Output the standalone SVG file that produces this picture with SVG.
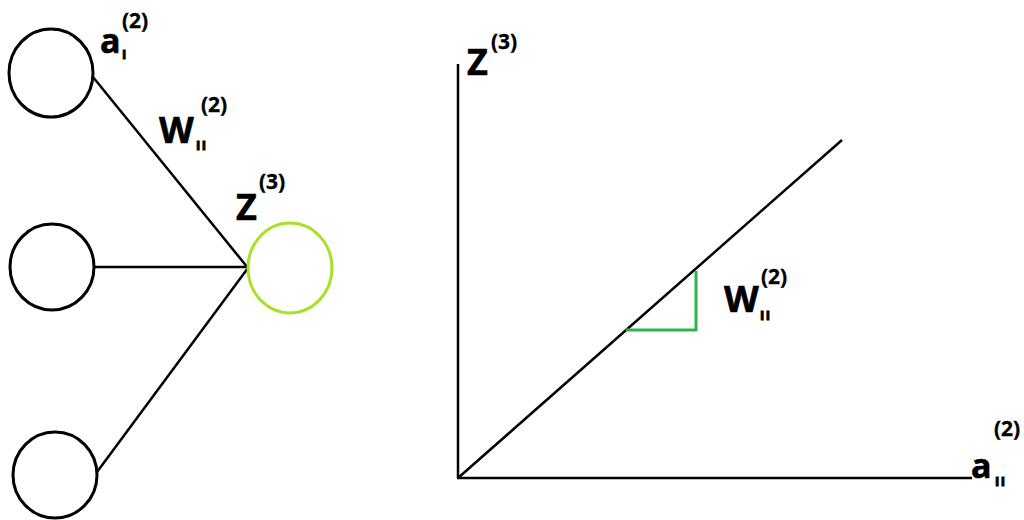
<svg xmlns="http://www.w3.org/2000/svg" width="1024" height="520" viewBox="0 0 1024 520">
<style>
.n{fill:none;stroke:#000;stroke-width:3}
.g{fill:none;stroke:#a8e02a;stroke-width:3}
.ln{stroke:#000;stroke-width:2.5;fill:none}
.gr{stroke:#2db34a;stroke-width:3;fill:none}
.t{font-family:"Open Sans","Liberation Sans",sans-serif;font-weight:bold;fill:#000;stroke:#000;stroke-width:0.6}
.b{font-size:36px}
.a{font-size:34px}
.s{font-size:21px;stroke-width:0.3}
.sub{font-size:13px;letter-spacing:1.5px;stroke-width:1}
</style>
<rect width="1024" height="520" fill="#fff"/>
<g id="connectors">
<line class="ln" x1="93" y1="77" x2="248" y2="268"/>
<line class="ln" x1="95" y1="267" x2="248" y2="267"/>
<line class="ln" x1="97" y1="472" x2="248" y2="268"/>
</g>
<g id="n1"><ellipse class="n" cx="51" cy="73" rx="42" ry="44"/></g>
<g id="n2"><ellipse class="n" cx="52" cy="267" rx="42" ry="43"/></g>
<g id="n3"><ellipse class="n" cx="55" cy="475" rx="42" ry="43"/></g>
<g id="z3"><ellipse class="g" cx="290" cy="268" rx="42" ry="45"/></g>
<g id="labels-left">
<text class="t a" x="100" y="53">a</text><text class="t sub" x="122" y="59">I</text><text class="t s" x="122" y="28">(2)</text>
<text class="t b" x="159" y="143">W</text><text class="t sub" x="196" y="150">II</text><text class="t s" x="201" y="112">(2)</text>
<text class="t b" x="236" y="220">Z</text><text class="t s" x="259" y="189">(3)</text>
</g>
<g id="chart">
<line class="ln" x1="458" y1="64" x2="458" y2="478"/>
<line class="ln" x1="457" y1="478" x2="972" y2="478"/>
<line class="ln" x1="458" y1="478" x2="842" y2="140"/>
<polyline class="gr" points="696,271 696,330 626,330"/>
<text class="t b" x="467" y="75">Z</text><text class="t s" x="491" y="49">(3)</text>
<text class="t b" x="724" y="312">W</text><text class="t sub" x="760" y="320">II</text><text class="t s" x="761" y="284">(2)</text>
<text class="t a" x="971" y="478">a</text><text class="t sub" x="995" y="486">II</text><text class="t s" x="994" y="436">(2)</text>
</g>
</svg>
